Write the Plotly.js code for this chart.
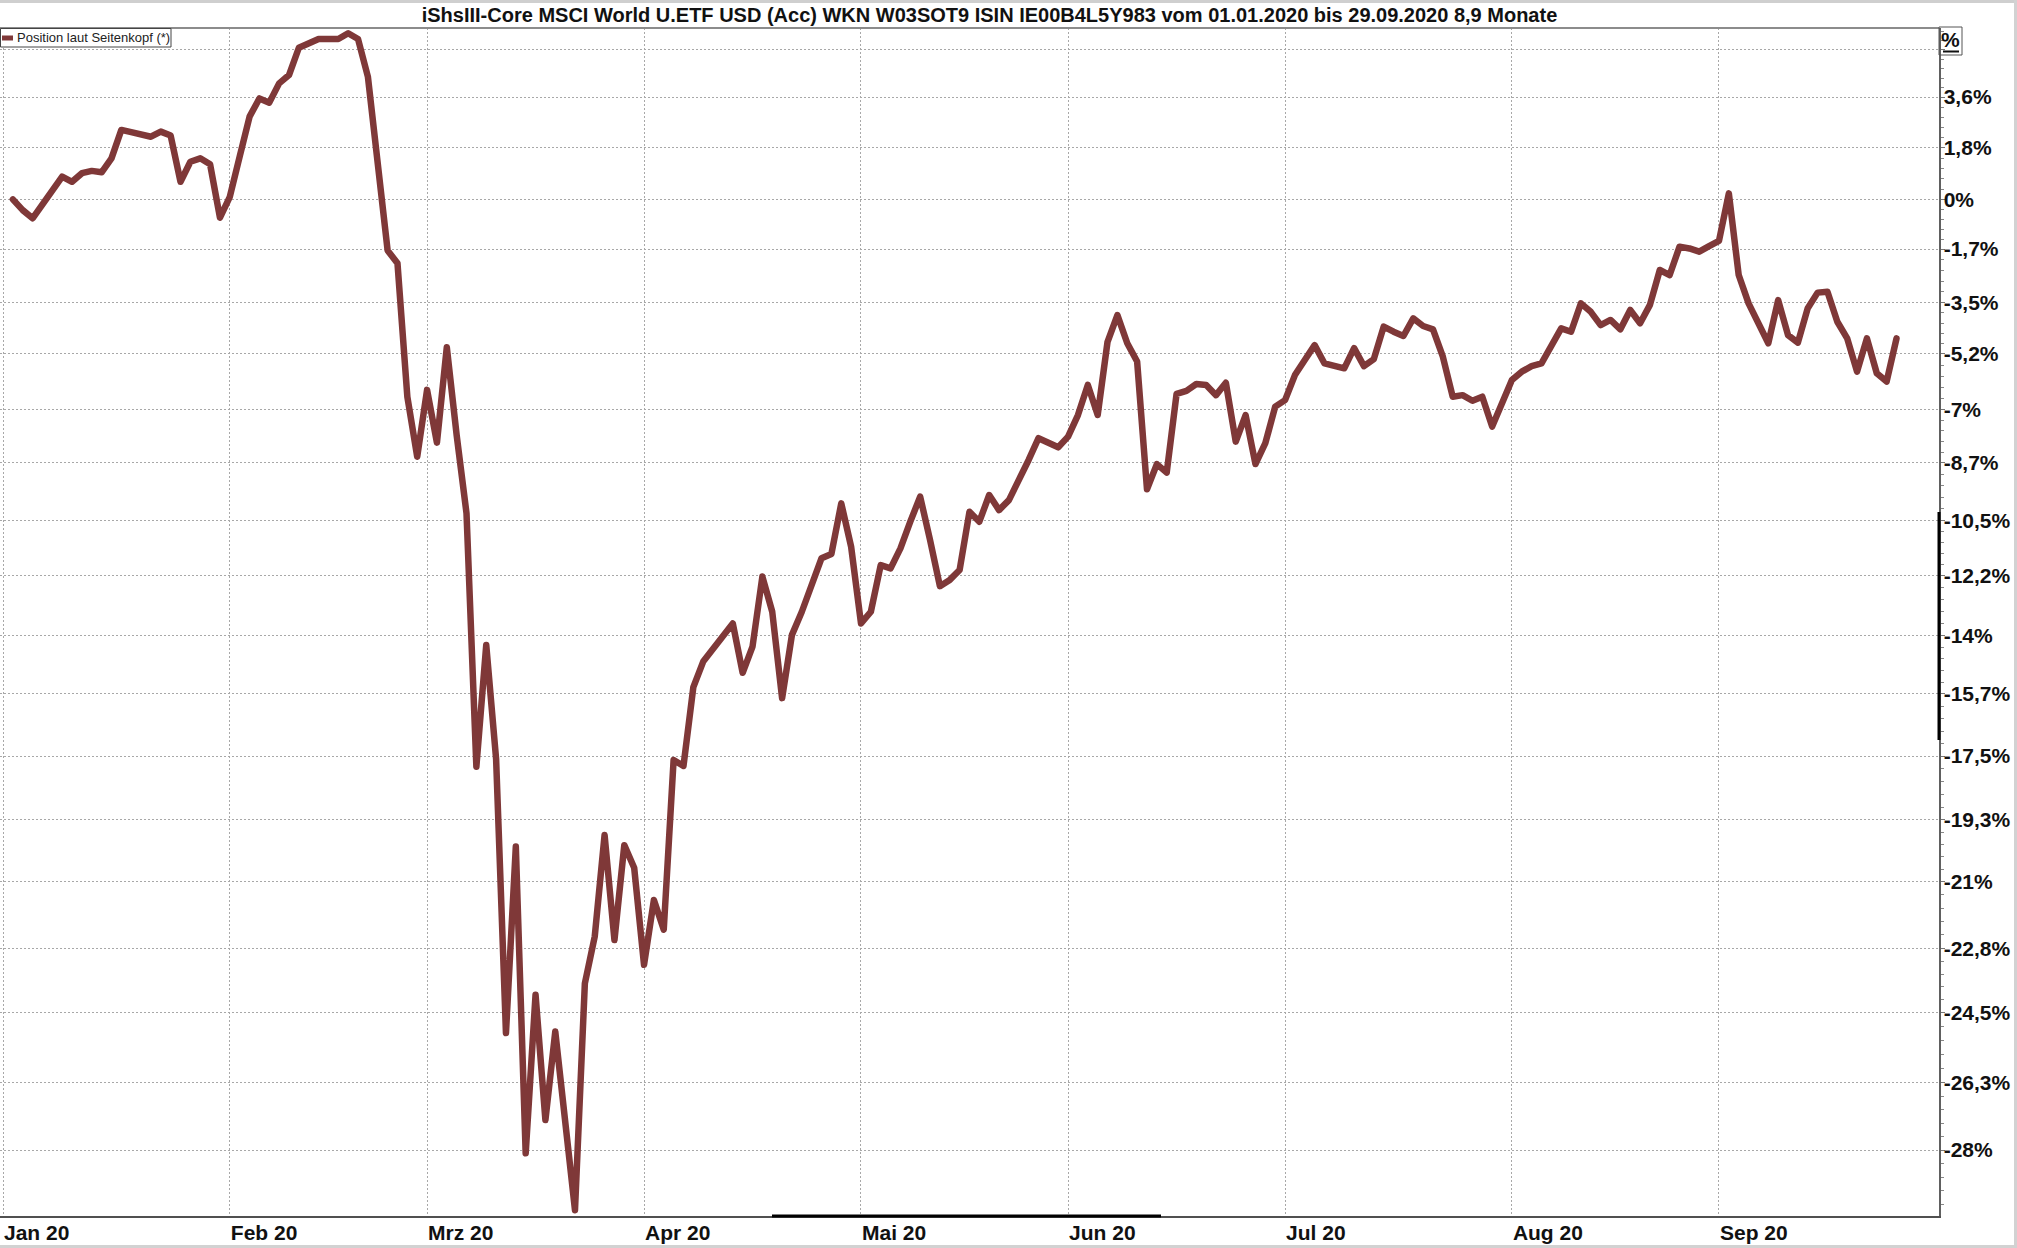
<!DOCTYPE html>
<html>
<head>
<meta charset="utf-8">
<script src="https://cdn.plot.ly/plotly-3.0.1.min.js"></script>
<style>
html, body { margin: 0; padding: 0; background: #ffffff; }
#chart { width: 2017px; height: 1248px; }
.js-line { stroke-linejoin: round !important; stroke-linecap: round !important; }
</style>
</head>
<body>
<div id="chart"></div>
<script>
// ---- data: performance in % per trading day ----
const janDays = [2,3,6,7,8,9,10,13,14,15,16,17,20,21,22,23,24,27,28,29,30,31];
const janVals = [0.0,-0.37,-0.65,-0.19,0.29,0.79,0.61,0.91,0.99,0.94,1.43,2.43,2.35,2.25,2.19,2.37,2.23,0.61,1.31,1.43,1.22,-0.63];

const febDays = [3,4,5,6,7,10,11,12,13,14,17,18,19,20,21,24,25,26,27,28];
const febVals = [0.09,1.49,2.90,3.55,3.40,4.09,4.39,5.38,5.51,5.70,5.70,5.70,5.91,5.70,4.33,1.30,-1.75,-2.18,-6.59,-8.51];

const marDays = [2,3,4,5,6,9,10,11,12,13,16,17,18,19,20,23,24,25,26,27,30,31];
const marVals = [-6.37,-8.06,-4.98,-7.82,-10.28,-17.80,-14.27,-17.58,-25.03,-20.04,-28.08,-24.03,-27.25,-24.99,-27.32,-29.48,-23.73,-22.49,-19.72,-22.58,-20.00,-20.62];

const aprDays = [1,2,3,6,7,8,9,14,15,16,17,20,21,22,23,24,27,28,29,30];
const aprVals = [-23.24,-21.50,-22.30,-17.61,-17.78,-15.51,-14.76,-13.63,-15.09,-14.32,-12.22,-13.28,-15.83,-13.97,-13.28,-12.47,-11.66,-11.53,-9.97,-11.31];

const mayDays = [1,4,5,6,7,8,11,12,13,14,15,18,19,20,21,22,25,26,27,28,29];
const mayVals = [-13.63,-13.28,-11.87,-11.97,-11.36,-10.54,-9.76,-11.10,-12.51,-12.32,-12.02,-10.23,-10.54,-9.71,-10.18,-9.87,-9.29,-8.61,-7.92,-8.08,-8.21];

const junDays = [1,2,3,4,5,8,9,10,11,12,15,16,17,18,19,22,23,24,25,26,29,30];
const junVals = [-7.87,-7.18,-6.21,-7.18,-4.80,-3.92,-4.85,-5.45,-9.53,-8.74,-9.01,-6.50,-6.40,-6.18,-6.21,-6.54,-6.14,-8.03,-7.18,-8.74,-8.08,-6.91];

const julDays = [1,2,3,6,7,8,9,10,13,14,15,16,17,20,21,22,23,24,27,28,29,30,31];
const julVals = [-6.70,-5.89,-5.40,-4.91,-5.51,-5.60,-5.67,-5.01,-5.60,-5.37,-4.30,-4.47,-4.61,-4.03,-4.28,-4.39,-5.29,-6.59,-6.54,-6.72,-6.59,-7.55,-6.80];

const augDays = [3,4,5,6,7,10,11,12,13,14,17,18,19,20,21,24,25,26,27,28,31];
const augVals = [-6.05,-5.78,-5.60,-5.51,-4.96,-4.36,-4.47,-3.53,-3.81,-4.25,-4.08,-4.39,-3.75,-4.19,-3.58,-2.41,-2.58,-1.62,-1.68,-1.79,-1.60];

const sepDays = [1,2,3,4,7,8,9,10,11,14,15,16,17,18,21,22,23,24,25];
const sepVals = [-1.42,0.21,-2.58,-3.53,-4.19,-4.85,-3.42,-4.58,-4.83,-3.69,-3.17,-3.14,-4.14,-4.69,-5.78,-4.69,-5.83,-6.10,-4.69];

// axis ticks
const monthTickDates = ['2020-01-01','2020-02-03','2020-03-02','2020-04-01','2020-05-01','2020-06-01','2020-07-01','2020-08-03','2020-09-01'];
const monthTickText  = ['Jan 20','Feb 20','Mrz 20','Apr 20','Mai 20','Jun 20','Jul 20','Aug 20','Sep 20'];
const yTickPct  = [5.3, 3.6, 1.8, 0, -1.7, -3.5, -5.2, -7, -8.7, -10.5, -12.2, -14, -15.7, -17.5, -19.3, -21, -22.8, -24.5, -26.3, -28];
const yTickText = ['', '3,6%', '1,8%', '0%', '-1,7%', '-3,5%', '-5,2%', '-7%', '-8,7%', '-10,5%', '-12,2%', '-14%', '-15,7%', '-17,5%', '-19,3%', '-21%', '-22,8%', '-24,5%', '-26,3%', '-28%'];

const title = 'iShsIII-Core MSCI World U.ETF USD (Acc) WKN W03SOT9 ISIN IE00B4L5Y983 vom 01.01.2020 bis 29.09.2020 8,9 Monate';
const seriesName = 'Position laut Seitenkopf (*)';

// ---- build trace ----
const months = [
  ['01', janDays, janVals], ['02', febDays, febVals], ['03', marDays, marVals],
  ['04', aprDays, aprVals], ['05', mayDays, mayVals], ['06', junDays, junVals],
  ['07', julDays, julVals], ['08', augDays, augVals], ['09', sepDays, sepVals]
];
const xs = [], ys = [];
months.forEach(([mm, days, vals]) => {
  days.forEach((d, i) => {
    xs.push('2020-' + mm + '-' + String(d).padStart(2, '0'));
    ys.push(1 + vals[i] / 100);   // log axis of the value ratio
  });
});

const lineColor = '#7f3838';
const FONT = 'Liberation Sans, Arial, sans-serif';

const yTickVals = yTickPct.map(p => 1 + p / 100);
// minor ticks: 4 between each pair of labelled levels (log spaced)
const minorVals = [];
const L = yTickVals.map(v => Math.log(v));
for (let k = 0; k < L.length - 1; k++) {
  for (let j = 1; j < 5; j++) minorVals.push(Math.exp(L[k] + (L[k + 1] - L[k]) * j / 5));
}
{
  const step = (L[L.length - 1] - L[L.length - 2]) / 5;
  for (let j = 1; j < 6; j++) minorVals.push(Math.exp(L[L.length - 1] + step * j));
  const step0 = (L[0] - L[1]) / 5;
  for (let j = 1; j < 3; j++) minorVals.push(Math.exp(L[0] + step0 * j));
}

// pixel helpers for decorations (plot area: x 0..1939, y 28..1216)
const PW = 1939, PT = 28, PB = 1216, PH = PB - PT;
const px = x => x / PW;
const py = y => (PB - y) / PH;
// vertical scale of the log axis: 2894 px per natural-log unit, ratio 1 at y=199.4
const yTopLog = Math.log10(Math.exp((199.4 - PT) / 2894));
const yBotLog = Math.log10(Math.exp((199.4 - PB) / 2894));

const trace = {
  type: 'scatter', mode: 'lines', name: seriesName,
  x: xs, y: ys,
  line: { color: lineColor, width: 6.5 },
  hoverinfo: 'skip'
};

const layout = {
  width: 2017, height: 1248,
  margin: { l: 0, r: 78, t: 28, b: 32, pad: 0 },
  paper_bgcolor: '#ffffff', plot_bgcolor: '#ffffff',
  showlegend: false,
  font: { family: FONT, color: '#111' },
  title: {
    text: '<b>' + title + '</b>',
    font: { family: FONT, size: 20, color: '#111' },
    xref: 'paper', x: px(989.5), xanchor: 'center',
    yref: 'container', y: 1 - 15 / 1248, yanchor: 'middle'
  },
  xaxis: {
    type: 'date',
    range: ['2019-12-31 16:42', '2020-10-01 07:26'],
    rangebreaks: [{ bounds: ['sat', 'mon'] }],
    tickmode: 'array', tickvals: monthTickDates, ticktext: monthTickText,
    ticklabelposition: 'outside right',
    ticklabelstandoff: -3,
    tickfont: { family: FONT, size: 21, color: '#111', weight: 'bold' },
    ticks: '', showgrid: true, gridcolor: '#a8a8a8', gridwidth: 1, griddash: '2px,2px',
    showline: true, linecolor: '#505050', linewidth: 2,
    zeroline: false, fixedrange: true
  },
  yaxis: {
    type: 'log', side: 'right',
    range: [yBotLog, yTopLog],
    tickmode: 'array', tickvals: yTickVals, ticktext: yTickText,
    tickfont: { family: FONT, size: 21, color: '#111', weight: 'bold' },
    ticks: 'outside', ticklen: 4, tickcolor: '#777', tickwidth: 1,
    ticklabelstandoff: -5,
    showgrid: true, gridcolor: '#a8a8a8', gridwidth: 1, griddash: '2px,2px',
    showline: true, linecolor: '#606060', linewidth: 1.5,
    minor: { tickmode: 'array', tickvals: minorVals, ticks: 'outside', ticklen: 3, tickcolor: '#888', tickwidth: 1, showgrid: false },
    zeroline: false, fixedrange: true
  },
  shapes: [
    // top border of the plot
    { type: 'line', xref: 'paper', yref: 'paper', x0: 0, x1: 1, y0: 1, y1: 1, line: { color: '#8c8c8c', width: 2 } },
    // outer frame of the picture
    { type: 'line', xref: 'paper', yref: 'paper', x0: 0, x1: px(2017), y0: py(1.5), y1: py(1.5), line: { color: '#cfcfcf', width: 3 } },
    { type: 'line', xref: 'paper', yref: 'paper', x0: px(2015.5), x1: px(2015.5), y0: py(0), y1: py(1248), line: { color: '#d2d2d2', width: 3 } },
    { type: 'line', xref: 'paper', yref: 'paper', x0: 0, x1: px(2017), y0: py(1246.5), y1: py(1246.5), line: { color: '#d2d2d2', width: 3 } },
    // scroll markers on the axes
    { type: 'line', xref: 'paper', yref: 'paper', x0: 1, x1: 1, y0: py(512), y1: py(740), line: { color: '#000', width: 3 } },
    { type: 'line', xref: 'paper', yref: 'paper', x0: px(772), x1: px(1161), y0: 0, y1: 0, line: { color: '#000', width: 3 } },
    // "%" unit box
    { type: 'rect', xref: 'paper', yref: 'paper', x0: px(1939), x1: px(1962), y0: py(55), y1: py(27), line: { color: '#555', width: 1 }, fillcolor: 'rgba(0,0,0,0)' },
    { type: 'line', xref: 'paper', yref: 'paper', x0: px(1943), x1: px(1959), y0: py(51.5), y1: py(51.5), line: { color: '#111', width: 2 } },
    // legend box and symbol
    { type: 'rect', xref: 'paper', yref: 'paper', x0: px(0.5), x1: px(171), y0: py(47), y1: py(28.5), line: { color: '#444', width: 1 }, fillcolor: '#ffffff' },
    { type: 'line', xref: 'paper', yref: 'paper', x0: px(2), x1: px(13), y0: py(38), y1: py(38), line: { color: lineColor, width: 5 } }
  ],
  annotations: [
    { xref: 'paper', yref: 'paper', x: px(15), y: py(37.5), xanchor: 'left', yanchor: 'middle', showarrow: false,
      text: seriesName, font: { family: FONT, size: 13, color: '#222' } },
    { xref: 'paper', yref: 'paper', x: px(1950.5), y: py(40), xanchor: 'center', yanchor: 'middle', showarrow: false,
      text: '<b>%</b>', font: { family: FONT, size: 21, color: '#111' } }
  ]
};

Plotly.newPlot('chart', [trace], layout, { staticPlot: true, displayModeBar: false });
</script>
</body>
</html>
